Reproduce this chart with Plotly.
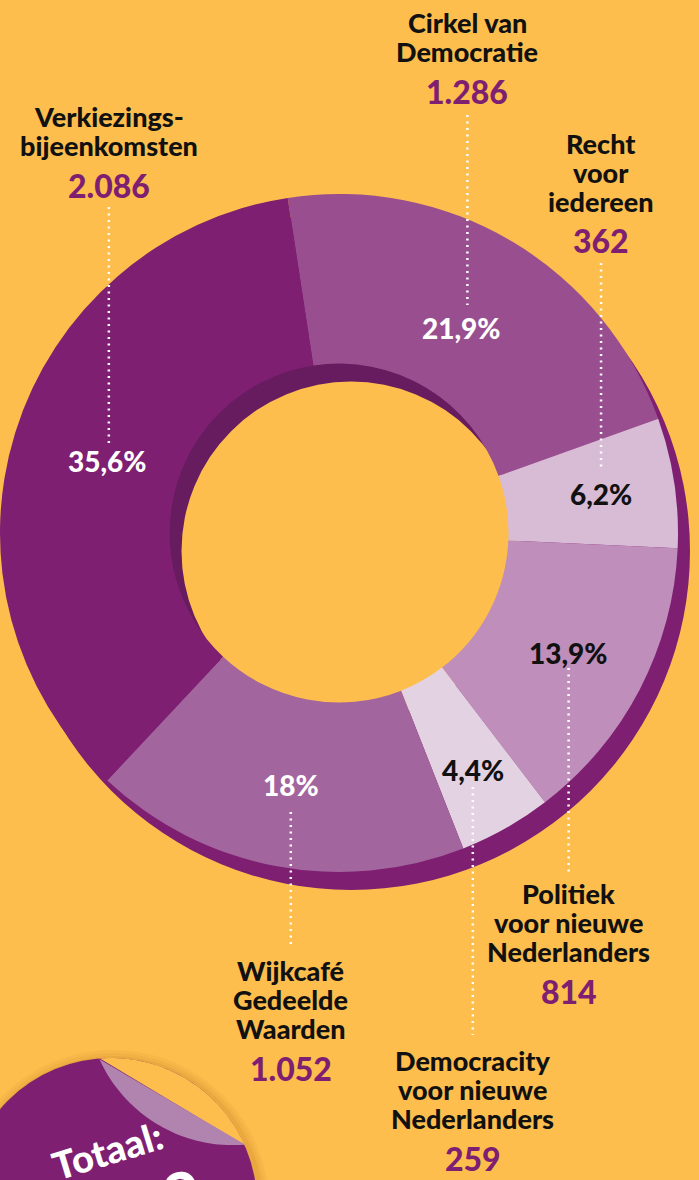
import math
import plotly.graph_objects as go

# ---------------- data ----------------
categories = ["Cirkel van Democratie", "Recht voor iedereen",
              "Politiek voor nieuwe Nederlanders", "Democracity voor nieuwe Nederlanders",
              "Wijkcafé Gedeelde Waarden", "Verkiezingsbijeenkomsten"]
label_lines = [["Cirkel van", "Democratie"],
               ["Recht", "voor", "iedereen"],
               ["Politiek", "voor nieuwe", "Nederlanders"],
               ["Democracity", "voor nieuwe", "Nederlanders"],
               ["Wijkcafé", "Gedeelde", "Waarden"],
               ["Verkiezings-", "bijeenkomsten"]]
values = [1286, 362, 814, 259, 1052, 2086]
value_labels = ["1.286", "362", "814", "259", "1.052", "2.086"]
pct_labels = ["21,9%", "6,2%", "13,9%", "4,4%", "18%", "35,6%"]
total_title = "Totaal:"
total_label = "5.859"

# ---------------- style / layout ----------------
W, H = 699, 1180
BG = "#FDBE4D"
PURPLE = "#7E1F72"
WALL_IN = "#661C5E"
slice_colors = ["#994F8F", "#D8BBD4", "#BF8EBA", "#E3D2E2", "#A3659D", "#7E1F72"]
pct_colors = ["white", "#111111", "#111111", "#111111", "white", "white"]
CX, CY, R = 339, 533, 339
HOLE = 0.5
SH_DX, SH_DY = 12, 18
ROT = -8.7
text_r = [239, 265, 259, 272, 257, 242]
label_dx = [6, 0, 0, 0, 0, 1]
label_top = [22, 143, 893, 1060, 970, 116]      # y of first text line
leader = [(115, 305), (263, 468), (668, 872), (787, 1035), (812, 945), (207, 447)]
LINE_STEP = 29
NUM_GAP = 40
FONT = "Lato"
WEIGHT = 900


def px(x):
    return x / W


def py(y):
    return 1 - y / H


def dom(cx, cy, r):
    return dict(x=[max(0, (cx - r) / W), min(1, (cx + r) / W)],
                y=[max(0, 1 - (cy + r) / H), min(1, 1 - (cy - r) / H)])


def disk(cx, cy, r, color, hole=0.0):
    return go.Pie(values=[1], labels=["_"], hole=hole, sort=False,
                  marker=dict(colors=[color], line=dict(width=0)),
                  textinfo="none", hoverinfo="skip", showlegend=False,
                  domain=dom(cx, cy, r))


fig = go.Figure()
# 3D side walls
fig.add_trace(disk(CX + SH_DX, CY + SH_DY, R, PURPLE, hole=HOLE))
fig.add_trace(disk(CX, CY, R * HOLE, WALL_IN))
fig.add_trace(disk(CX + SH_DX, CY + SH_DY, R * HOLE, BG))
# main donut
fig.add_trace(go.Pie(values=values, labels=categories, hole=HOLE, sort=False,
                     direction="clockwise", rotation=ROT,
                     marker=dict(colors=slice_colors, line=dict(width=0)),
                     textinfo="none", hoverinfo="label+value", showlegend=False,
                     domain=dom(CX, CY, R)))

annotations = []
shapes = []
total = sum(values)
cum = 0
for i, v in enumerate(values):
    mid = math.radians(ROT + 360 * (cum + v / 2) / total)
    cum += v
    tx = CX + text_r[i] * math.sin(mid)
    ty = CY - text_r[i] * math.cos(mid)
    annotations.append(dict(x=px(tx), y=py(ty), xref="paper", yref="paper",
                            text=pct_labels[i], showarrow=False,
                            xanchor="center", yanchor="middle",
                            font=dict(family=FONT, size=28, color=pct_colors[i], weight=WEIGHT)))
    lx = tx + label_dx[i]
    for k, line in enumerate(label_lines[i]):
        annotations.append(dict(x=px(lx), y=py(label_top[i] + k * LINE_STEP),
                                xref="paper", yref="paper", text=line, showarrow=False,
                                xanchor="center", yanchor="middle",
                                font=dict(family=FONT, size=27, color="#111111", weight=WEIGHT)))
    ny = label_top[i] + (len(label_lines[i]) - 1) * LINE_STEP + NUM_GAP
    annotations.append(dict(x=px(lx), y=py(ny), xref="paper", yref="paper",
                            text=value_labels[i], showarrow=False,
                            xanchor="center", yanchor="middle",
                            font=dict(family=FONT, size=32, color=PURPLE, weight=WEIGHT)))
    y0, y1 = leader[i]
    shapes.append(dict(type="line", xref="paper", yref="paper", layer="above",
                       x0=px(lx), x1=px(lx), y0=py(y0), y1=py(y1),
                       line=dict(color="white", width=2.5, dash="2px,4.5px")))

# ---------------- "Totaal" sticker ----------------
SX, SY, SR = 111, 1204, 146
for k, a in enumerate([0.05, 0.06, 0.08]):
    rr = SR + 10 - 3 * k
    shapes.append(dict(type="circle", xref="paper", yref="paper", layer="above",
                       x0=px(SX - rr + 2), x1=px(SX + rr + 2), y0=py(SY + rr + 2), y1=py(SY - rr + 2),
                       fillcolor=f"rgba(150,70,0,{a})", line=dict(width=0)))
shapes.append(dict(type="circle", xref="paper", yref="paper", layer="above",
                   x0=px(SX - SR), x1=px(SX + SR), y0=py(SY + SR), y1=py(SY - SR),
                   fillcolor=PURPLE, line=dict(width=0)))
P1 = (100, 1059)
P2 = (245, 1145)
a1 = math.atan2(P1[1] - SY, P1[0] - SX)
a2 = math.atan2(P2[1] - SY, P2[0] - SX)
arc = [(SX + SR * math.cos(a1 + (a2 - a1) * t / 40), SY + SR * math.sin(a1 + (a2 - a1) * t / 40))
       for t in range(41)]
# cap beyond the fold -> background
cap_path = "M " + " L ".join(f"{px(x):.5f},{py(y):.5f}" for x, y in arc) + " Z"
shapes.append(dict(type="path", xref="paper", yref="paper", layer="above", path=cap_path,
                   fillcolor=BG, line=dict(width=0)))
# flap = reflection of cap across fold line
dx, dy = P2[0] - P1[0], P2[1] - P1[1]
L2 = dx * dx + dy * dy


def reflect(p):
    t = ((p[0] - P1[0]) * dx + (p[1] - P1[1]) * dy) / L2
    fx, fy = P1[0] + t * dx, P1[1] + t * dy
    return (2 * fx - p[0], 2 * fy - p[1])


flap = [reflect(p) for p in arc]
flap_path = "M " + " L ".join(f"{px(x):.5f},{py(y):.5f}" for x, y in flap) + " Z"
shapes.append(dict(type="path", xref="paper", yref="paper", layer="above", path=flap_path,
                   fillcolor="#B084AE", line=dict(width=0)))

annotations.append(dict(x=px(107), y=py(1150), xref="paper", yref="paper", text=total_title,
                        showarrow=False, textangle=-17, xanchor="center", yanchor="middle",
                        font=dict(family=FONT, size=38, color="white", weight=WEIGHT)))
annotations.append(dict(x=px(122), y=py(1212), xref="paper", yref="paper", text=total_label,
                        showarrow=False, textangle=-17, xanchor="center", yanchor="middle",
                        font=dict(family=FONT, size=64, color="white", weight=WEIGHT)))

fig.update_layout(width=W, height=H, margin=dict(l=0, r=0, t=0, b=0),
                  paper_bgcolor=BG, plot_bgcolor=BG,
                  annotations=annotations, shapes=shapes, showlegend=False)
fig.write_html("out.html", config={"displayModeBar": False},
               post_script="document.body.style.margin='0';document.body.style.overflow='hidden';")
